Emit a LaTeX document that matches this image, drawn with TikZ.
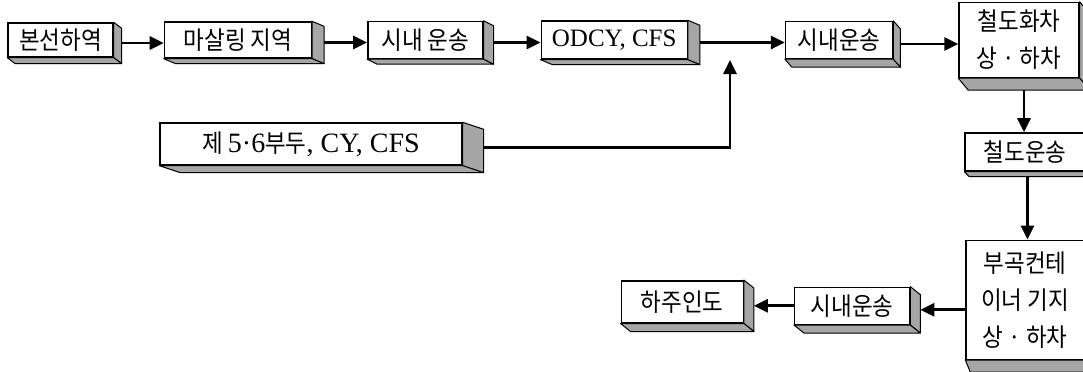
\documentclass[tikz,border=0pt]{standalone}
\usepackage{fontspec}
\setmainfont{Liberation Serif}
\newfontfamily\kr[FakeStretch=0.9]{Noto Sans CJK KR}
\usetikzlibrary{arrows.meta,positioning}

% raised box: right and bottom faces of a node, plus two coordinates on them
\newcommand{\solid}[3]{%
  \draw[face] (#1.north east) -- ([shift={(#2,-#3)}]#1.north east)
    -- ([shift={(#2,-#3)}]#1.south east) -- (#1.south east) -- cycle;
  \draw[face] (#1.south west) -- (#1.south east)
    -- ([shift={(#2,-#3)}]#1.south east) -- ([shift={(#2,-#3)}]#1.south west) -- cycle;
  \coordinate (#1-r) at ([shift={(#2,-#3/2)}]#1.east);
  \coordinate (#1-b) at ([shift={(#2/2,-#3)}]#1.south);
}

\begin{document}
\begin{tikzpicture}[
  x=0.5pt, y=-0.5pt,
  box/.style={draw, line width=0.7pt, fill=white, inner sep=0pt, align=center,
              font=\kr\fontsize{12.5}{18.5}\selectfont},
  face/.style={draw, line width=0.5pt, fill=black!35, line join=round},
  arr/.style={-{Triangle[length=7pt,width=6.5pt]}, line width=1.4pt}
]
\useasboundingbox (0,0) rectangle (1083,371);

% top row
\node[box, minimum width=52.5pt, minimum height=17pt] (lb) at (60.5,40) {본선하역};
\node[box, right=25pt of lb, minimum width=73.5pt, minimum height=18pt] (ms) {마살링 지역};
\node[box, right=27.5pt of ms, minimum width=57.5pt, minimum height=18.5pt] (sn1) {시내 운송};
\node[box, right=28.5pt of sn1, minimum width=73pt, minimum height=19pt] (od)
  {\rmfamily\fontsize{12.5}{15}\selectfont ODCY, CFS};
\node[box, right=48.5pt of od, minimum width=53.5pt, minimum height=18.5pt] (sn2) {시내운송};
\node[box, right=32.5pt of sn2, minimum width=60pt, minimum height=37.5pt] (hc) {철도화차\\상 · 하차};

% right column and bottom row
\node[box, below=27pt of hc, xshift=3pt, minimum width=60pt, minimum height=19pt] (ru) {철도운송};
\node[box, below=34pt of ru, minimum width=59pt, minimum height=59.5pt] (bu) {부곡컨테\\이너 기지\\상 · 하차};
\node[box, left=27.5pt of bu, yshift=-3pt, minimum width=57.5pt, minimum height=18.5pt] (sn3) {시내운송};
\node[box, left=25pt of sn3, yshift=2pt, minimum width=61pt, minimum height=21pt] (hj) {하주인도};

% side entry
\node[box, minimum width=151pt, minimum height=21pt] (jb) at (311,144)
  {제 {\rmfamily\fontsize{14}{15}\selectfont 5·6}부두{\rmfamily\fontsize{14}{15}\selectfont , CY, CFS}};
\coordinate (mj) at (730,60);

\solid{lb}{4pt}{3pt}
\solid{ms}{6pt}{2.5pt}
\solid{sn1}{5pt}{2.5pt}
\solid{od}{6pt}{2.5pt}
\solid{sn2}{3.5pt}{4pt}
\solid{hc}{5pt}{6pt}
\solid{ru}{2.5pt}{2.5pt}
\solid{bu}{2.5pt}{6pt}
\solid{sn3}{5pt}{4pt}
\solid{hj}{5pt}{4pt}
\solid{jb}{10.5pt}{3.5pt}

\draw[arr] (lb-r)  -- (lb-r -| ms.west);
\draw[arr] (ms-r)  -- (ms-r -| sn1.west);
\draw[arr] (sn1-r) -- (sn1-r -| od.west);
\draw[arr] (od-r)  -- (od-r -| sn2.west);
\draw[arr] (sn2-r) -- (sn2-r -| hc.west);
\draw[arr] (hc-b)  -- (hc-b |- ru.north);
\draw[arr] (ru-b)  -- (ru-b |- bu.north);
\draw[arr] (bu.west |- sn3-r) -- (sn3-r);
\draw[arr] (sn3.west) -- (sn3.west -| hj-r);
\draw[arr] (jb-r) -| (mj);
\end{tikzpicture}
\end{document}
